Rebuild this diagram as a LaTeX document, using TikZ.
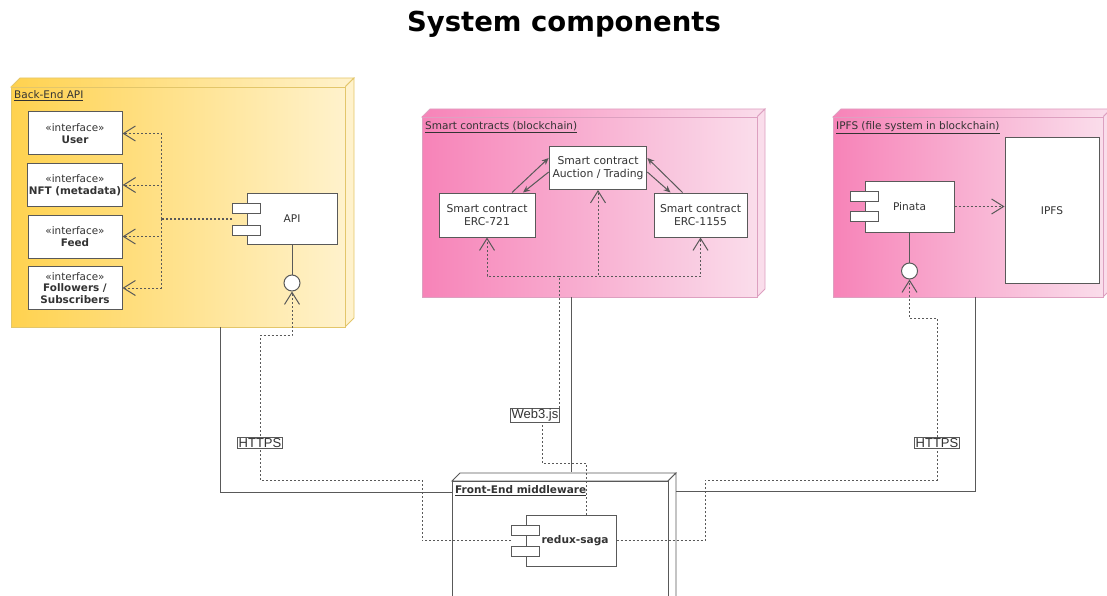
\documentclass[tikz,border=0pt]{standalone}
\usepackage{fontspec}
\setmainfont{DejaVu Sans}
\newfontfamily\arialfont{Liberation Sans}
\usetikzlibrary{arrows.meta,positioning}
\definecolor{lineg}{HTML}{595959}
\definecolor{txtg}{HTML}{333333}
\definecolor{yelA}{HTML}{FFD24F}
\definecolor{yelB}{HTML}{FFF2CC}
\definecolor{yelS}{HTML}{E3C66A}
\definecolor{pinkA}{HTML}{F783B8}
\definecolor{pinkB}{HTML}{FADDEB}
\definecolor{pinkS}{HTML}{DDA0C0}
\tikzset{every picture/.style={x=1pt, y=-1pt, every picture/.style={}}}
\tikzset{
  iface/.style={draw=lineg, fill=white, line width=1pt, minimum width=94, minimum height=43,
    align=center, inner sep=1pt, font=\fontsize{10.4}{11.8}\selectfont, text=txtg},
  comp/.style={draw=lineg, fill=white, line width=1pt, minimum width=90, minimum height=51,
    font=\fontsize{10.6}{12}\selectfont, text=txtg},
  tab/.style={draw=lineg, fill=white, line width=1pt, minimum width=28, minimum height=10, inner sep=0pt},
  ball/.style={circle, draw=lineg, fill=white, line width=1pt, minimum size=16, inner sep=0pt},
  contract/.style={draw=lineg, fill=white, line width=1pt, minimum height=43,
    align=center, font=\fontsize{10.8}{12.5}\selectfont, text=txtg},
  wire/.style={draw=lineg, line width=1pt},
  dep/.style={draw=lineg, line width=1pt, dash pattern=on 2pt off 2pt},
  realize/.style={-{Straight Barb[length=12pt, width=15pt]}},
  call/.style={-{Stealth[length=7pt, width=6pt]}},
  proto/.style={draw=lineg, fill=white, line width=0.8pt, inner sep=1pt,
    font={\arialfont\fontsize{13}{14}\selectfont}, text=txtg},
  pkgtitle/.style={anchor=north west, inner sep=0pt, font=\fontsize{10.5}{12}\selectfont, text=txtg},
}
% 3D package: name, x1, y1, x2, y2, depth, left colour, right colour, stroke
\newcommand{\pkgbox}[9]{%
  \shadedraw[left color=#7, right color=#8, draw=#9, line width=0.8pt]
    (#2,#3) -- ++(#6,-#6) -- ({#4+#6},{#3-#6}) -- (#4,#3) -- cycle;
  \filldraw[fill=#8, draw=#9, line width=0.8pt]
    (#4,#3) -- ++(#6,-#6) -- ({#4+#6},{#5-#6}) -- (#4,#5) -- cycle;
  \node[draw=#9, line width=0.8pt, left color=#7, right color=#8, inner sep=0pt,
    minimum width={#4-#2}, minimum height={#5-#3}] (#1) at ({(#2+#4)/2},{(#3+#5)/2}) {};
}

\begin{document}
\begin{tikzpicture}
  \useasboundingbox (0,0) rectangle (1107,596);
  \clip (0,0) rectangle (1107,596);
  % Title
  \node[font=\bfseries\fontsize{27.5}{30}\selectfont] (title) at (564,24) {System components};

  % Packages
  \pkgbox{bapi}{11}{87}{345}{327}{9}{yelA}{yelB}{yelS}
  \pkgbox{scon}{422}{117}{757}{297}{8}{pinkA}{pinkB}{pinkS}
  \pkgbox{ipfsp}{833}{117}{1103}{297}{8}{pinkA}{pinkB}{pinkS}
  \pkgbox{fend}{452}{481}{668}{640}{8}{white}{white}{lineg}
  \node[pkgtitle] (bapiT) at (14,90) {\underline{Back-End API}};
  \node[pkgtitle] (sconT) at (425,121) {\underline{Smart contracts (blockchain)}};
  \node[pkgtitle] (ipfspT) at (836,121) {\underline{IPFS (file system in blockchain)}};
  \node[pkgtitle, font=\bfseries\fontsize{10.5}{12}\selectfont] (fendT) at (455,485) {\underline{Front-End middleware}};

  % Back-End API
  \node[iface] (usr) at (75,133.5) {«interface»\\\textbf{User}};
  \node[iface] (nft) at (75,185) {«interface»\\\textbf{NFT (metadata)}};
  \node[iface] (feed) at (75,236.5) {«interface»\\\textbf{Feed}};
  \node[iface] (fol) at (75,288) {«interface»\\\textbf{Followers /}\\\textbf{Subscribers}};
  \node[comp] (api) at (292,219) {API};
  \foreach \i/\dy in {1/-11,2/11}
    \node[tab] (apitab\i) at ([shift={(0,\dy)}]api.west) {};
  \node[ball] (apiball) at (292,283) {};
  \draw[wire] (api.south) -- (apiball.north);
  \coordinate (ibus) at (161,219);
  \draw[dep, line width=2pt] (apitab1.west |- api.west) -- (ibus);
  \foreach \i in {usr,nft,feed,fol}
    \draw[dep, realize] (ibus) |- (\i.east);

  % Smart contracts
  \node[contract, minimum width=96] (auction) at (598,168) {Smart contract\\Auction / Trading};
  \node[contract, minimum width=96, minimum height=44] (erc721) at (487,215) {Smart contract\\ERC-721};
  \node[contract, minimum width=93, minimum height=44] (erc1155) at (700.5,215) {Smart contract\\ERC-1155};
  \draw[wire, call] ([shift={(25,0)}]erc721.north) -- ([shift={(0,-10)}]auction.west);
  \draw[wire, call] ([shift={(0,4)}]auction.west) -- ([shift={(36,0)}]erc721.north);
  \draw[wire, call] ([shift={(-18,0)}]erc1155.north) -- ([shift={(0,-10)}]auction.east);
  \draw[wire, call] ([shift={(0,4)}]auction.east) -- ([shift={(-30,0)}]erc1155.north);

  % IPFS
  \node[comp, minimum width=89] (pinata) at (909.5,206.5) {Pinata};
  \foreach \i/\dy in {1/-10,2/10}
    \node[tab] (pintab\i) at ([shift={(0,\dy)}]pinata.west) {};
  \node[draw=lineg, fill=white, line width=1pt, minimum width=94, minimum height=145,
    font=\fontsize{10.6}{12}\selectfont, text=txtg] (ipfs) at (1052,210.5) {IPFS};
  \draw[dep, realize] (pinata.east) -- (pinata.east -| ipfs.west);
  \node[ball] (pinball) at (909.5,271) {};
  \draw[wire] (pinata.south) -- (pinball.north);

  % Front-End middleware
  \node[comp, font=\bfseries\fontsize{10.6}{12}\selectfont] (redux) at (571,540.5) {\hspace{8pt}redux-saga};
  \foreach \i/\dy in {1/-10.5,2/10.5}
    \node[tab] (redtab\i) at ([shift={(0,\dy)}]redux.west) {};

  % Links between packages
  \draw[wire] ([shift={(210,0)}]bapi.south west) |- ([shift={(0,12)}]fend.north west);
  \draw[wire] ([shift={(8,11)}]fend.north east) -| ([shift={(143,0)}]ipfsp.south west);
  \draw[wire] ([shift={(150,0)}]scon.south west) -- ++(0,175);

  % HTTPS and Web3.js calls
  \draw[dep, realize] (redtab1.west |- redux.west) -| (422,480) -| (260,335) -| (apiball.south);
  \draw[dep, realize] (redux.east) -| (705,480) -| (937,318) -| (pinball.south);
  \coordinate (sbus) at (559,276);
  \draw[dep] ([shift={(15,0)}]redux.north) |- (542,463) -- (542,415) -| (sbus);
  \foreach \t in {erc721,auction,erc1155}
    \draw[dep, realize] (sbus) -| (\t.south);
  \node[proto] (https1) at (260,443) {HTTPS};
  \node[proto] (https2) at (937,443) {HTTPS};
  \node[proto] (web3) at (535,415) {Web3.js};
\end{tikzpicture}
\end{document}
